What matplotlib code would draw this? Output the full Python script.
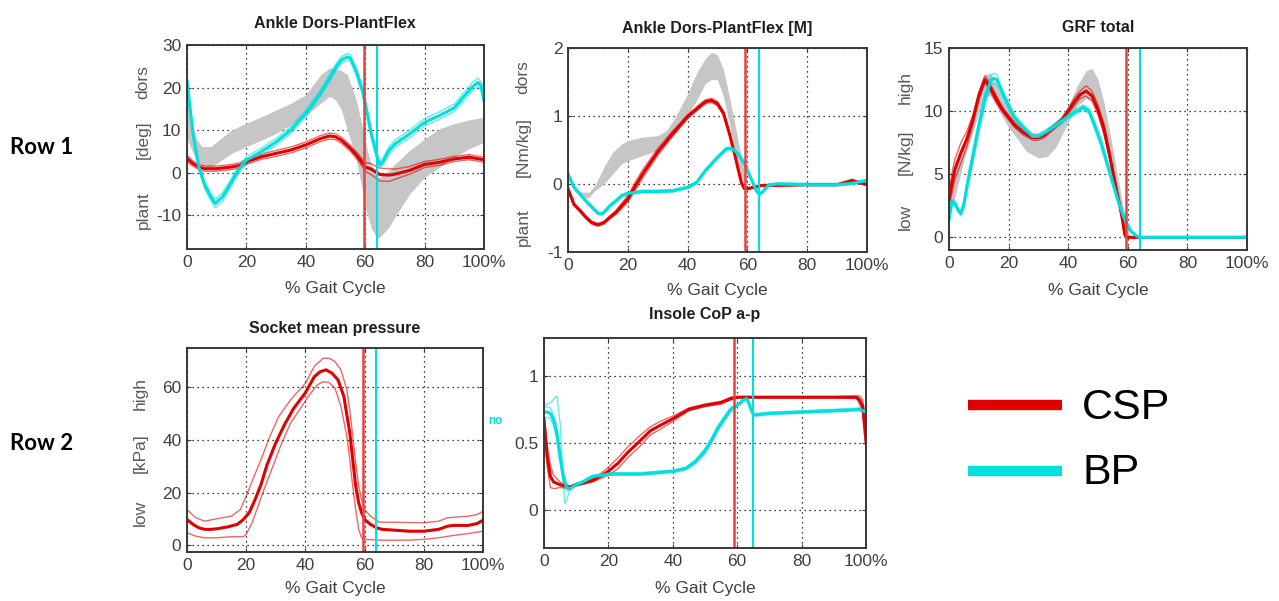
import matplotlib
matplotlib.use('Agg')
import matplotlib.pyplot as plt
import numpy as np

plt.rcParams['font.family'] = ['Liberation Sans', 'DejaVu Sans']

# ---------------- data ----------------
xticks = [0, 20, 40, 60, 80, 100]
xtick_labels = ['0', '20', '40', '60', '80', '100%']

# Ankle Dors-PlantFlex (angle, deg)
ang_band_x = [0, 3, 5, 8, 10, 15, 20, 25, 30, 35, 40, 45, 48, 50, 52, 54, 57, 59, 60, 62,
              64, 65, 68, 70, 75, 80, 85, 90, 95, 100]
ang_band_hi = [17, 8, 6.1, 6.1, 7.2, 10, 11.6, 13.1, 14.7, 16.3, 18.3, 23, 24.6, 24.4, 24, 23, 17, 11, 7, 2,
               -1, -1.1, 0.5, 2, 5.2, 7.9, 10.3, 11.5, 12.4, 13]
ang_band_lo = [8, 3, 1.7, 1.3, 2.1, 4.5, 6.1, 7.6, 9.2, 11.2, 13.5, 16.3, 17.9, 17.1, 14.7, 10, 3, -4, -8, -13,
               -15.5, -15.2, -12.9, -10.5, -5, -1.1, 1.2, 3.6, 5.6, 7.1]
ang_red_x = [0, 2, 4, 6, 8, 10, 15, 18, 20, 25, 30, 35, 40, 45, 48, 50, 52, 55, 58, 60,
             62, 65, 68, 70, 75, 80, 85, 90, 95, 100]
ang_red = [3.3, 2.1, 1.3, 0.9, 0.9, 0.9, 1.3, 1.7, 2.5, 3.7, 4.5, 5.3, 6.5, 8.0, 8.6, 8.4, 7.6, 5.7, 3.3, 1.3,
           0.8, -0.5, -0.6, -0.4, 0.5, 1.9, 2.4, 3.2, 3.6, 3.0]
ang_red_sd = [0.8, 0.6, 0.6, 0.6, 0.6, 0.6, 0.6, 0.6, 0.6, 0.6, 0.7, 0.7, 0.7, 0.7, 0.7, 0.7, 0.7, 0.7, 0.8, 1.0,
              1.3, 1.5, 1.5, 1.2, 0.9, 0.7, 0.7, 0.6, 0.6, 0.6]
ang_cy_x = [0, 2, 4, 6, 8, 9.5, 12, 14, 16, 18, 20, 25, 30, 35, 40, 45, 48, 50, 52, 54,
            55, 57, 59, 60, 62, 64, 65, 66, 68, 70, 75, 80, 85, 90, 93, 96, 98, 99, 100]
ang_cy = [21.5, 9.2, 1.3, -3.0, -5.7, -7.3, -5.7, -3.4, -1.0, 1.3, 2.9, 4.9, 7.2, 10.0, 13.9, 18.7, 22.2, 24.6, 26.5, 27.2,
          26.9, 23.8, 19.4, 16.3, 9.2, 3.7, 1.8, 2.6, 5.2, 6.7, 9.1, 11.8, 13.4, 15.2, 17.7, 20.1, 21.2, 20.4, 17.0]
ang_cy_sd = [0.8, 0.8, 0.8, 0.8, 0.9, 1.0, 1.0, 0.9, 0.8, 0.8, 0.8, 0.8, 0.8, 0.8, 0.8, 0.8, 0.8, 0.8, 0.8, 0.8,
             0.8, 0.8, 0.8, 0.8, 0.8, 0.8, 0.8, 0.8, 0.9, 0.9, 0.9, 0.9, 0.9, 0.9, 0.9, 1.0, 1.0, 1.0, 1.0]

# Ankle Dors-PlantFlex [M] (moment, Nm/kg)
mom_band_x = [3, 5, 7, 9, 12, 15, 18, 20, 25, 30, 33, 36, 40, 43, 46, 48, 50, 52, 54, 56, 58, 59.5]
mom_band_hi = [-0.1, -0.12, -0.12, -0.02, 0.25, 0.47, 0.59, 0.64, 0.69, 0.71, 0.79, 0.99, 1.33, 1.63, 1.85, 1.94,
               1.9, 1.68, 1.28, 0.84, 0.39, 0.05]
mom_band_lo = [-0.12, -0.2, -0.2, -0.1, 0.0, 0.15, 0.3, 0.34, 0.42, 0.49, 0.64, 0.76, 1.01, 1.23, 1.48, 1.54,
               1.53, 1.28, 0.89, 0.44, 0.1, -0.02]
mom_red_x = [0, 2, 4, 6, 8, 10, 12, 14, 16, 18, 20, 22, 25, 30, 35, 40, 44, 46, 48, 50,
             52, 54, 56, 57, 58, 59, 60, 62, 65, 70, 80, 90, 95, 100]
mom_red = [-0.07, -0.3, -0.39, -0.49, -0.57, -0.6, -0.57, -0.49, -0.42, -0.32, -0.22, -0.07, 0.15, 0.47, 0.74,
           0.99, 1.14, 1.21, 1.23, 1.18, 1.04, 0.74, 0.39, 0.2, 0.02, -0.07, -0.07, -0.05, -0.02, -0.02,
           -0.01, -0.01, 0.05, -0.01]
mom_red_sd = [0.02, 0.02, 0.02, 0.02, 0.02, 0.02, 0.02, 0.02, 0.03, 0.04, 0.05, 0.06, 0.06, 0.05, 0.04,
              0.03, 0.03, 0.03, 0.03, 0.03, 0.03, 0.02, 0.02, 0.02, 0.02, 0.01, 0.01, 0.01, 0.01, 0.01,
              0.01, 0.01, 0.02, 0.01]
mom_cy_x = [0, 2, 4, 6, 8, 10, 11, 12, 14, 16, 18, 20, 25, 30, 35, 40, 43, 46, 50, 53,
            55, 57, 59, 61, 63, 64, 65, 67, 70, 80, 90, 95, 100]
mom_cy = [0.15, -0.05, -0.15, -0.25, -0.34, -0.43, -0.44, -0.42, -0.32, -0.25, -0.17, -0.14, -0.11, -0.11,
          -0.1, -0.05, 0.02, 0.2, 0.39, 0.52, 0.52, 0.44, 0.3, 0.1, -0.1, -0.15, -0.12, -0.02, 0,
          -0.01, -0.01, 0.01, 0.05]
mom_cy_sd = [0.02] * 33

# GRF total (N/kg)
grf_band_x = [0, 2, 5, 8, 10, 12, 14, 16, 18, 20, 23, 26, 30, 33, 36, 40, 43, 46, 48, 50,
              52, 54, 56, 58, 60, 61]
grf_band_hi = [3.5, 5.1, 7.5, 9.6, 11.2, 12.9, 13, 12, 10.9, 10.1, 9.1, 8.4, 8, 8.2, 9.1, 10.4, 12, 13.2, 13.4,
               12.5, 10.7, 8.3, 5.6, 3, 0.6, 0]
grf_band_lo = [1.9, 3.2, 6.1, 8.3, 9.9, 11.2, 11.2, 10.4, 9.5, 8.7, 7.8, 6.8, 6.3, 6.4, 7.2, 9.1, 10.4, 11,
               10.8, 9.6, 7.8, 5.7, 3.5, 1.1, 0, 0]
grf_red_x = [0, 1, 2, 4, 6, 8, 10, 12, 13, 14, 16, 18, 20, 22, 25, 28, 30, 32, 35, 38,
             40, 42, 44, 46, 48, 50, 52, 54, 56, 58, 59, 60, 100]
grf_red = [3, 4.3, 5.4, 6.7, 7.8, 9.3, 11.2, 12.5, 12.2, 11.8, 10.9, 10.1, 9.5, 8.9, 8.3, 7.9, 7.9, 8.1, 8.7,
           9.3, 10, 10.7, 11.3, 11.6, 11.2, 10.1, 8.6, 6.4, 4, 1.7, 0.2, 0, 0]
grf_red_sd = [0.5, 0.8, 0.8, 0.8, 0.6, 0.4, 0.3, 0.3, 0.3, 0.3, 0.3, 0.2, 0.2, 0.2, 0.2, 0.2, 0.2, 0.2, 0.2,
              0.2, 0.2, 0.3, 0.3, 0.4, 0.4, 0.4, 0.4, 0.3, 0.2, 0.2, 0.1, 0, 0]
grf_cy_x = [0, 1, 2, 3, 4, 5, 6, 8, 10, 12, 14, 15, 16, 18, 20, 22, 25, 28, 30, 33,
            36, 40, 43, 45, 47, 49, 51, 53, 55, 57, 59, 61, 63, 64, 100]
grf_cy = [1.4, 2.85, 2.7, 2.2, 1.9, 2.6, 4, 6.4, 8.8, 10.9, 12.4, 12.6, 12.5, 11.4, 10.4, 9.5, 8.7, 8, 8, 8.4,
          8.9, 9.6, 10, 10.3, 10, 8.8, 7.5, 5.9, 4.3, 2.7, 1.4, 0.5, 0.1, 0, 0]
grf_cy_sd = [0.2, 0.2, 0.2, 0.2, 0.2, 0.3, 0.4, 0.5, 0.5, 0.5, 0.4, 0.4, 0.4, 0.3, 0.3, 0.2, 0.2, 0.2, 0.2, 0.2,
             0.2, 0.2, 0.2, 0.2, 0.2, 0.3, 0.3, 0.3, 0.3, 0.2, 0.2, 0.1, 0.05, 0, 0]

# Socket mean pressure (kPa)
soc_x = [0, 2, 4, 6, 8, 10, 14, 17, 19, 21, 23, 25, 27, 30, 33, 36, 40, 43, 45, 47,
         49, 51, 53, 55, 56, 57, 58, 59, 60, 62, 64, 66, 70, 75, 80, 85, 88, 90, 95, 98, 100]
soc_mid = [9.85, 8, 6.7, 6.1, 6.1, 6.3, 7.1, 8, 9.8, 12.4, 17.4, 23.1, 30.5, 39, 46, 52, 58, 64.1, 66, 66.7,
           65.4, 62.9, 56.6, 42.7, 32.6, 22.5, 16.2, 12.4, 9.8, 8, 6.7, 6.1, 5.8, 5.4, 5.4, 6.1, 7.3, 7.6,
           7.6, 8.3, 9.6]
soc_hi_x = [0, 3, 6, 10, 15, 18, 20, 22, 25, 28, 31, 35, 40, 43, 46, 48, 50, 52, 54, 55,
            56, 57, 58, 59, 60, 62, 65, 70, 80, 85, 88, 95, 98, 100]
soc_hi = [13.6, 10.5, 9.2, 10.1, 11.1, 13.6, 18.7, 24.4, 32.6, 41.4, 49, 55.3, 61.6, 68, 71.1, 71.1, 69.8, 66.7,
          59.1, 51.5, 41.4, 31.3, 22.5, 17.4, 13.6, 11.1, 8.8, 8.8, 8.6, 9.2, 10.5, 11.1, 11.7, 13]
soc_lo_x = [0, 3, 6, 10, 15, 19, 20, 22, 24, 26, 29, 32, 35, 38, 41, 44, 46, 48, 50, 52,
            54, 55, 56, 57, 58, 59, 60, 65, 75, 80, 85, 90, 95, 100]
soc_lo = [4.8, 3.5, 2.9, 2.9, 3.3, 3.3, 4.2, 8.6, 14.9, 21.2, 30, 38.9, 46.5, 51.5, 56.6, 61, 62.2, 61.9, 59.7,
          52.8, 41.4, 32.6, 22.5, 13.6, 6.1, 2.9, 2.3, 2, 2, 2.3, 2.9, 3.8, 4.5, 5.4]

# Insole CoP a-p
cop_red_x = [0, 1, 2, 3, 5, 8, 10, 15, 18, 20, 23, 26, 30, 33, 36, 40, 45, 50, 55, 58,
             60, 70, 80, 90, 97, 98, 99, 100]
cop_red = [0.67, 0.4, 0.25, 0.21, 0.19, 0.17, 0.19, 0.22, 0.26, 0.29, 0.35, 0.43, 0.52, 0.59, 0.63, 0.68,
           0.75, 0.78, 0.8, 0.83, 0.84, 0.84, 0.84, 0.84, 0.84, 0.82, 0.77, 0.52]
cop_red_sd = [0.05, 0.08, 0.08, 0.05, 0.02, 0.01, 0.01, 0.01, 0.02, 0.03, 0.04, 0.04, 0.04, 0.03, 0.03, 0.02,
              0.01, 0.01, 0.01, 0.01, 0.005, 0.005, 0.005, 0.005, 0.01, 0.03, 0.05, 0.08]
cop_cy_x = [0, 1, 2, 3, 4, 5, 6, 7, 8, 10, 12, 15, 18, 20, 25, 30, 35, 40, 44, 47,
            50, 52, 54, 56, 58, 60, 62, 63, 64, 65, 66, 70, 80, 90, 98, 100]
cop_cy = [0.73, 0.73, 0.72, 0.67, 0.57, 0.4, 0.25, 0.17, 0.16, 0.19, 0.21, 0.25, 0.26, 0.27, 0.27, 0.27, 0.28,
          0.29, 0.31, 0.36, 0.44, 0.52, 0.61, 0.68, 0.75, 0.78, 0.82, 0.83, 0.77, 0.71, 0.71, 0.72, 0.73,
          0.74, 0.75, 0.73]
cop_cy_sd = [0.04, 0.04, 0.04, 0.04, 0.05, 0.05, 0.04, 0.02, 0.01, 0.01, 0.01, 0.01, 0.01, 0.01, 0.01, 0.01,
             0.01, 0.01, 0.01, 0.015, 0.02, 0.02, 0.02, 0.02, 0.015, 0.01, 0.01, 0.01, 0.02, 0.01, 0.01,
             0.01, 0.01, 0.01, 0.01, 0.01]
cop_cy_alt_x = [0, 2, 4, 5, 6, 6.5, 7, 8, 10]
cop_cy_alt = [0.78, 0.8, 0.85, 0.65, 0.2, 0.05, 0.07, 0.15, 0.2]

# event lines (% gait cycle): toe-off CSP / BP
toeoff_red = [59.5, 59.3, 59.5, 59.5, 59.0]
toeoff_cy = [64.0, 64.0, 64.0, 64.0, 65.0]

# ---------------- styling ----------------
RED = '#e00000'
CYAN = '#00dede'
GRAY = '#c6c6c6'
TXT = '#404040'

W, H = 1279, 601
fig = plt.figure(figsize=(W / 100, H / 100), dpi=100)


def P(x, y):
    return x / W, 1 - y / H


def make_ax(l, t, r, b):
    return fig.add_axes([l / W, 1 - b / H, (r - l) / W, (b - t) / H])


def style(ax, ylim, yticks, ylabels):
    ax.set_xlim(0, 100)
    ax.set_ylim(*ylim)
    ax.set_xticks(xticks)
    ax.set_xticklabels(xtick_labels)
    ax.set_yticks(yticks)
    ax.set_yticklabels(ylabels)
    ax.grid(True, color='k', linestyle=(0, (1, 3)), linewidth=0.9)
    ax.set_axisbelow(True)
    for s in ax.spines.values():
        s.set_color('#383838')
        s.set_linewidth(1.4)
        s.set_zorder(10)
    ax.tick_params(direction='in', length=3, top=True, right=True, labelsize=12.5,
                   labelcolor=TXT, color='#383838', pad=4)


def trials(ax, x, m, sd, color, lw_mean=2.2):
    x = np.asarray(x, float)
    m = np.asarray(m, float)
    sd = np.asarray(sd, float)
    ax.plot(x, m + sd, color=color, lw=1.0, alpha=0.6, zorder=3)
    ax.plot(x, m - sd, color=color, lw=1.0, alpha=0.6, zorder=3)
    ax.plot(x, m, color=color, lw=lw_mean, zorder=4)


def events(ax, i):
    ax.axvline(toeoff_red[i], color='#e84040', lw=1.8, zorder=5)
    ax.axvline(toeoff_cy[i], color=CYAN, lw=1.5, zorder=5)


def ylab3(x, ys, texts):
    for y, t in zip(ys, texts):
        fig.text(*P(x, y), t, rotation=90, ha='center', va='center', fontsize=12.5, color='#5a5a5a')


def title(x, y, t):
    fig.text(*P(x, y), t, ha='center', va='center', fontsize=11.5, fontweight='bold', color='#202020')


def xlab(x, y):
    fig.text(*P(x, y), '% Gait Cycle', ha='center', va='center', fontsize=12.5, color=TXT)


# --- Ankle angle ---
ax1 = make_ax(187, 45, 484, 249)
ax1.fill_between(ang_band_x, ang_band_lo, ang_band_hi, color=GRAY, lw=0, zorder=1)
trials(ax1, ang_red_x, ang_red, ang_red_sd, RED)
trials(ax1, ang_cy_x, ang_cy, ang_cy_sd, CYAN)
events(ax1, 0)
style(ax1, (-18, 30), [-10, 0, 10, 20, 30], ['-10', '0', '10', '20', '30'])
title(335, 24, 'Ankle Dors-PlantFlex')
xlab(335, 288)
ylab3(143, [82, 140, 210], ['dors', '[deg]', 'plant'])

# --- Ankle moment ---
ax2 = make_ax(568, 48, 867, 252)
ax2.fill_between(mom_band_x, mom_band_lo, mom_band_hi, color=GRAY, lw=0, zorder=1)
trials(ax2, mom_red_x, mom_red, mom_red_sd, RED)
trials(ax2, mom_cy_x, mom_cy, mom_cy_sd, CYAN)
events(ax2, 1)
style(ax2, (-1, 2), [-1, 0, 1, 2], ['-1', '0', '1', '2'])
title(717, 28, 'Ankle Dors-PlantFlex [M]')
xlab(717, 290)
ylab3(523, [77, 147, 227], ['dors', '[Nm/kg]', 'plant'])

# --- GRF ---
ax3 = make_ax(949, 48, 1247, 250)
ax3.fill_between(grf_band_x, grf_band_lo, grf_band_hi, color=GRAY, lw=0, zorder=1)
trials(ax3, grf_red_x, grf_red, grf_red_sd, RED)
trials(ax3, grf_cy_x, grf_cy, grf_cy_sd, CYAN)
events(ax3, 2)
style(ax3, (-1, 15), [0, 5, 10, 15], ['0', '5', '10', '15'])
title(1098, 28, 'GRF total')
xlab(1098, 290)
ylab3(905, [87, 152, 217], ['high', '[N/kg]', 'low'])

# --- Socket pressure ---
ax4 = make_ax(187, 348, 483, 552)
ax4.plot(soc_hi_x, soc_hi, color=RED, lw=1.0, alpha=0.6, zorder=3)
ax4.plot(soc_lo_x, soc_lo, color=RED, lw=1.0, alpha=0.6, zorder=3)
ax4.plot(soc_x, soc_mid, color=RED, lw=2.2, zorder=4)
events(ax4, 3)
style(ax4, (-2.5, 75), [0, 20, 40, 60], ['0', '20', '40', '60'])
title(335, 328, 'Socket mean pressure')
xlab(335, 588)
ylab3(140, [393, 453, 513], ['high', '[kPa]', 'low'])
fig.text(*P(495, 421), 'no', ha='center', va='center', fontsize=8.5, fontweight='bold', color=CYAN)

# --- CoP ---
ax5 = make_ax(544, 338, 866, 548)
trials(ax5, cop_red_x, cop_red, cop_red_sd, RED)
trials(ax5, cop_cy_x, cop_cy, cop_cy_sd, CYAN)
ax5.plot(cop_cy_alt_x, cop_cy_alt, color=CYAN, lw=1.0, alpha=0.6, zorder=3)
events(ax5, 4)
style(ax5, (-0.28, 1.28), [0, 0.5, 1], ['0', '0.5', '1'])
title(705, 315, 'Insole CoP a-p')
xlab(705, 588)

# --- Legend ---
fig.add_artist(plt.Line2D([968 / W, 1062 / W], [1 - 405 / H] * 2, color='#e00000', lw=7.5,
                          solid_capstyle='butt'))
fig.add_artist(plt.Line2D([968 / W, 1062 / W], [1 - 471 / H] * 2, color='#00e0e0', lw=7.5,
                          solid_capstyle='butt'))
fig.text(*P(1082, 408), 'CSP', ha='left', va='center', fontsize=31, color='black')
fig.text(*P(1082, 473), 'BP', ha='left', va='center', fontsize=31, color='black')

# --- Row labels ---
fig.text(*P(10, 148), 'Row 1', ha='left', va='center', fontsize=16, fontweight='bold',
         family=['Lato', 'DejaVu Sans'], color='black')
fig.text(*P(10, 443), 'Row 2', ha='left', va='center', fontsize=16, fontweight='bold',
         family=['Lato', 'DejaVu Sans'], color='black')

fig.savefig('out.png', dpi=100, facecolor='white')
